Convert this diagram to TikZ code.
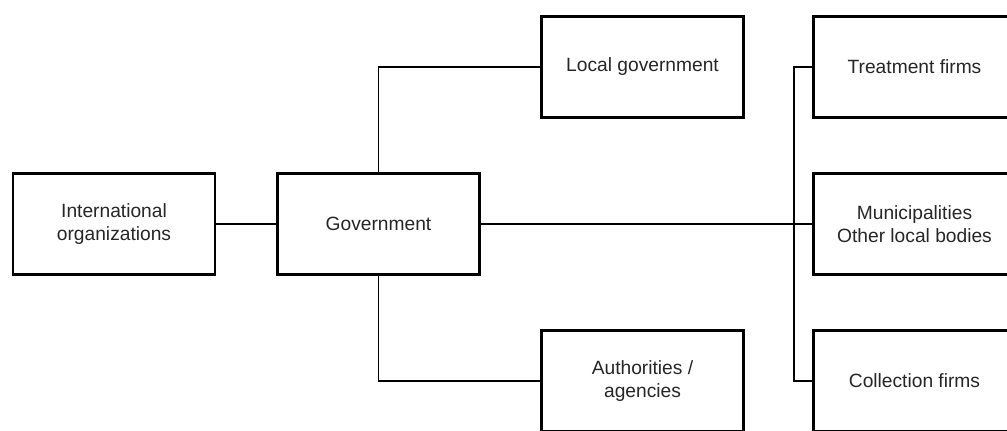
\documentclass[tikz,border=0pt]{standalone}
\usepackage{fontspec}
\setmainfont{Liberation Sans}
\usetikzlibrary{calc}
\tikzset{
  unit/.style={draw, line width=2.2pt, minimum width=151.5pt, minimum height=75.75pt,
    align=center, font=\fontsize{14.4}{17.3}\selectfont, text=black!85},
  link/.style={line width=0.9pt}
}

\begin{document}
\begin{tikzpicture}[x=0.75pt,y=-0.75pt]
\useasboundingbox (0,0) rectangle (1007,430);
\clip (0,0) rectangle (1007,430);
%\draw [help lines] (0,0) grid (1007,430);
\node[unit] (intl) at (114,224) {International\\organizations};
\node[unit] (gov) at (378.5,224) {Government};
\node[unit] (local) at (642.5,67) {Local government};
\node[unit] (auth) at (642.5,381) {Authorities /\\agencies};
\node[unit] (treat) at (914.5,67) {Treatment firms};
\node[unit] (muni) at (914.5,224) {Municipalities\\Other local bodies};
\node[unit] (coll) at (914.5,381) {Collection firms};
\coordinate (bt) at (794,67);
\coordinate (bb) at (794,381);
\draw[link] (intl) -- (gov);
\draw[link] (gov.north) |- (local.west);
\draw[link] (gov.south) |- (auth.west);
\draw[link] (gov.east) -- (muni.west);
\draw[link] (treat.west) -- (bt) -- (bb) -- (coll.west);
\end{tikzpicture}
\end{document}
